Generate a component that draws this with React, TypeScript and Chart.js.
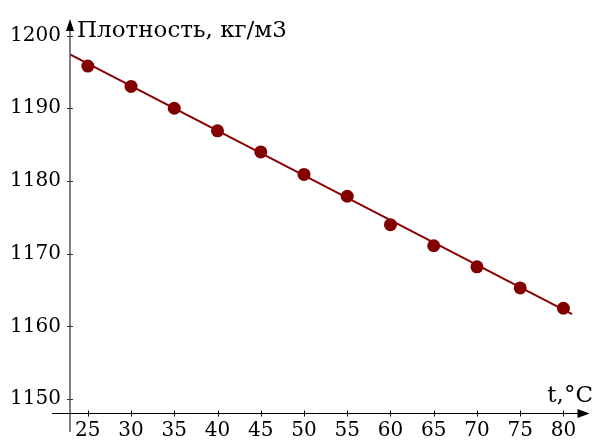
import React, { useEffect, useRef } from "react";
import { Chart, registerables } from "chart.js";

Chart.register(...registerables);

const temperatures = [25, 30, 35, 40, 45, 50, 55, 60, 65, 70, 75, 80];
const densities = [1195.8, 1193.0, 1190.0, 1186.9, 1184.0, 1180.9, 1177.9, 1174.0, 1171.1, 1168.2, 1165.3, 1162.5];
const fitT = [22.94, 81.0];
const fitDensity = [1197.4, 1161.7];
const xTicks = [25, 30, 35, 40, 45, 50, 55, 60, 65, 70, 75, 80];
const yTicks = [1150, 1160, 1170, 1180, 1190, 1200];
const yTitle = "Плотность, кг/м3";
const xTitle = "t,°C";

const FONT = "'DejaVu Serif'";

const axesPlugin = {
  id: "arrowAxes",
  afterDraw(chart: any) {
    const { ctx, chartArea } = chart;
    const xs = chart.scales.x;
    const ys = chart.scales.y;
    const x0 = chartArea.left;
    const y0 = chartArea.bottom;
    ctx.save();
    ctx.strokeStyle = "#555555";
    ctx.lineWidth = 1.5;
    ctx.beginPath();
    ctx.moveTo(x0, 432);
    ctx.lineTo(x0, chartArea.top + 8);
    ctx.stroke();
    ctx.fillStyle = "#000000";
    ctx.beginPath();
    ctx.moveTo(x0, chartArea.top - 2);
    ctx.lineTo(x0 - 4, chartArea.top + 10);
    ctx.lineTo(x0 + 4, chartArea.top + 10);
    ctx.closePath();
    ctx.fill();
    ctx.strokeStyle = "#333333";
    ctx.lineWidth = 1;
    for (const v of yTicks) {
      const py = Math.round(ys.getPixelForValue(v)) + 0.5;
      ctx.beginPath();
      ctx.moveTo(x0 - 3, py);
      ctx.lineTo(x0 + 3, py);
      ctx.stroke();
    }
    ctx.strokeStyle = "#000000";
    ctx.lineWidth = 1;
    const yy = Math.round(y0) + 0.5;
    ctx.beginPath();
    ctx.moveTo(52, yy);
    ctx.lineTo(chartArea.right - 8, yy);
    ctx.stroke();
    ctx.beginPath();
    ctx.moveTo(chartArea.right + 1, yy);
    ctx.lineTo(chartArea.right - 11, yy - 4.5);
    ctx.lineTo(chartArea.right - 11, yy + 4.5);
    ctx.closePath();
    ctx.fill();
    for (const v of xTicks) {
      const px = Math.round(xs.getPixelForValue(v)) + 0.5;
      ctx.beginPath();
      ctx.moveTo(px, yy - 3);
      ctx.lineTo(px, yy + 3);
      ctx.stroke();
    }
    ctx.fillStyle = "#000000";
    ctx.font = `23px ${FONT}`;
    ctx.textBaseline = "alphabetic";
    ctx.textAlign = "left";
    ctx.fillText(yTitle, x0 + 7, 37);
    ctx.textAlign = "right";
    ctx.fillText(xTitle, 593, 402);
    ctx.restore();
  },
};

export default function App() {
  const ref = useRef<HTMLCanvasElement | null>(null);
  useEffect(() => {
    if (!ref.current) return;
    const chart = new Chart(ref.current, {
      type: "scatter",
      data: {
        datasets: [
          {
            type: "line",
            data: fitT.map((t, i) => ({ x: t, y: fitDensity[i] })),
            borderColor: "#8b0000",
            borderWidth: 2,
            pointRadius: 0,
            fill: false,
          },
          {
            data: temperatures.map((t, i) => ({ x: t, y: densities[i] })),
            backgroundColor: "#800000",
            borderColor: "#800000",
            pointRadius: 6.5,
            pointBorderWidth: 0,
          },
        ],
      },
      plugins: [axesPlugin],
      options: {
        responsive: false,
        animation: false,
        events: [],
        layout: { padding: { top: 15, right: 2, left: 0, bottom: 0 } },
        plugins: { legend: { display: false }, tooltip: { enabled: false } },
        scales: {
          x: {
            type: "linear",
            min: 22.94,
            max: 82.9,
            afterBuildTicks: (s: any) => {
              s.ticks = xTicks.map((v) => ({ value: v }));
            },
            afterFit: (s: any) => {
              s.height = 28;
            },
            grid: { display: false, drawTicks: false },
            border: { display: false },
            ticks: {
              color: "#000000",
              padding: 6,
              maxRotation: 0,
              autoSkip: false,
              callback: (v: any) => String(v),
              font: { family: FONT, size: 20 },
            },
          },
          y: {
            type: "linear",
            min: 1148.1,
            max: 1202,
            afterBuildTicks: (s: any) => {
              s.ticks = yTicks.map((v) => ({ value: v }));
            },
            afterFit: (s: any) => {
              s.width = 70;
            },
            grid: { display: false, drawTicks: false },
            border: { display: false },
            ticks: {
              color: "#000000",
              padding: 9,
              autoSkip: false,
              callback: (v: any) => String(v),
              font: { family: FONT, size: 20 },
            },
          },
        },
      },
    } as any);
    return () => chart.destroy();
  }, []);
  return (
    <div style={{ position: "absolute", left: 0, top: 0, width: 595, height: 441, background: "#fff" }}>
      <canvas ref={ref} width={595} height={441} style={{ display: "block" }} />
    </div>
  );
}
